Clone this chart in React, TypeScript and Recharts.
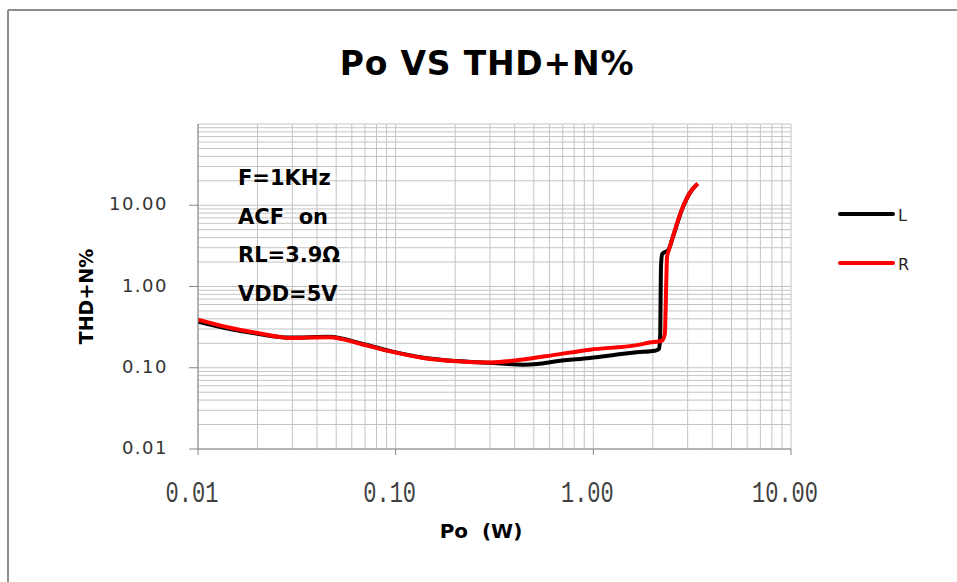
import React from "react";
import { LineChart, Line, XAxis, YAxis, CartesianGrid, Legend } from "recharts";

// ---- Data ----
const L_PO = [0.01, 0.0145, 0.02, 0.029, 0.046, 0.069, 0.094, 0.138, 0.204, 0.3, 0.44, 0.52, 0.65, 0.96, 1.66, 2.05, 2.15, 2.18, 2.19, 2.2, 2.23, 2.4, 2.53, 2.8, 3.08, 3.35];
const L_THD = [0.37, 0.3, 0.262, 0.235, 0.24, 0.195, 0.16, 0.133, 0.121, 0.115, 0.109, 0.111, 0.12, 0.132, 0.155, 0.162, 0.17, 0.25, 0.8, 1.8, 2.5, 2.85, 4.1, 8.7, 14.2, 18.2];

const R_PO = [0.01, 0.0145, 0.02, 0.029, 0.046, 0.069, 0.094, 0.138, 0.204, 0.3, 0.44, 0.65, 0.96, 1.66, 1.93, 2.22, 2.3, 2.32, 2.34, 2.36, 2.42, 2.53, 2.8, 3.08, 3.38];
const R_THD = [0.39, 0.31, 0.268, 0.233, 0.238, 0.192, 0.159, 0.132, 0.12, 0.116, 0.126, 0.145, 0.167, 0.19, 0.204, 0.215, 0.26, 0.5, 1.2, 2.3, 2.9, 4.15, 8.8, 14.3, 18.5];

const SERIES_NAMES = ["L", "R"];
const SERIES_COLORS = ["#000000", "#ff0000"];

const X_MAJOR = [0.01, 0.1, 1, 10];
const X_MAJOR_LABELS = ["0.01", "0.10", "1.00", "10.00"];
const X_TICKS = [
  0.01, 0.02, 0.03, 0.04, 0.05, 0.06, 0.07, 0.08, 0.09,
  0.1, 0.2, 0.3, 0.4, 0.5, 0.6, 0.7, 0.8, 0.9,
  1, 2, 3, 4, 5, 6, 7, 8, 9, 10,
];

const Y_MAJOR = [0.01, 0.1, 1, 10];
const Y_MAJOR_LABELS = ["0.01", "0.10", "1.00", "10.00"];
const Y_TICKS = [
  0.01, 0.02, 0.03, 0.04, 0.05, 0.06, 0.07, 0.08, 0.09,
  0.1, 0.2, 0.3, 0.4, 0.5, 0.6, 0.7, 0.8, 0.9,
  1, 2, 3, 4, 5, 6, 7, 8, 9,
  10, 20, 30, 40, 50, 60, 70, 80, 90, 100,
];

const TITLE = "Po VS THD+N%";
const X_TITLE = "Po  (W)";
const Y_TITLE = "THD+N%";
const NOTES = ["F=1KHz", "ACF  on", "RL=3.9Ω", "VDD=5V"];

const lData = L_PO.map((p, i) => ({ p, t: L_THD[i] }));
const rData = R_PO.map((p, i) => ({ p, t: R_THD[i] }));

const near = (a: number, b: number) => Math.abs(a - b) < 1e-9 * Math.max(1, Math.abs(b));

const XTick = (props: any) => {
  const { x, y, payload } = props;
  const idx = X_MAJOR.findIndex((m) => near(m, payload.value));
  if (idx < 0) return null;
  return (
    <g>
      <line x1={x} y1={y} x2={x} y2={y + 6} stroke="#868686" strokeWidth={1} />
      <g transform={`translate(${x - 6},${y + 53}) scale(1,1.35)`}>
        <text
          x={0}
          y={0}
          textAnchor="middle"
          fontFamily="'Liberation Mono', monospace"
          fontSize={22}
          fill="#404040"
        >
          {X_MAJOR_LABELS[idx]}
        </text>
      </g>
    </g>
  );
};

const YTick = (props: any) => {
  const { x, y, payload } = props;
  const idx = Y_MAJOR.findIndex((m) => near(m, payload.value));
  if (idx < 0) return null;
  return (
    <g>
      <line x1={x - 9} y1={y} x2={x} y2={y} stroke="#868686" strokeWidth={1} />
      <text
        x={x - 30}
        y={y + 5}
        textAnchor="end"
        fontFamily="'DejaVu Sans', sans-serif"
        fontSize={18}
        letterSpacing={1.5}
        fill="#333333"
      >
        {Y_MAJOR_LABELS[idx]}
      </text>
    </g>
  );
};

const LegendContent = (props: any) => {
  const { payload } = props;
  return (
    <svg width={100} height={80} style={{ overflow: "visible", display: "block" }}>
      {(payload || []).map((item: any, i: number) => (
        <g key={item.value} transform={`translate(0,${i * 49})`}>
          <line x1={10} y1={14} x2={63} y2={14} stroke={item.color} strokeWidth={4} strokeLinecap="round" />
          <text x={68} y={21} fontFamily="'DejaVu Sans', sans-serif" fontSize={16} fill="#222">
            {item.value}
          </text>
        </g>
      ))}
    </svg>
  );
};

export default function App() {
  return (
    <div style={{ position: "absolute", left: 0, top: 0, width: 957, height: 582, background: "#fff", overflow: "hidden" }}>
      <LineChart width={957} height={582} margin={{ top: 124, right: 66, bottom: 0, left: 0 }}>
        <CartesianGrid stroke="#c4c4c4" strokeWidth={1} />
        <XAxis
          type="number"
          dataKey="p"
          scale="log"
          domain={[0.01, 10]}
          ticks={X_TICKS}
          interval={0}
          allowDataOverflow
          tick={<XTick />}
          tickLine={false}
          tickSize={0}
          tickMargin={0}
          height={133}
          axisLine={{ stroke: "#868686", strokeWidth: 1 }}
        />
        <YAxis
          type="number"
          scale="log"
          domain={[0.01, 100]}
          ticks={Y_TICKS}
          interval={0}
          allowDataOverflow
          tick={<YTick />}
          tickLine={false}
          tickSize={0}
          tickMargin={0}
          width={198}
          axisLine={{ stroke: "#868686", strokeWidth: 1 }}
        />
        <Line
          data={lData}
          dataKey="t"
          name={SERIES_NAMES[0]}
          stroke={SERIES_COLORS[0]}
          strokeWidth={4}
          dot={false}
          type="monotone"
          isAnimationActive={false}
        />
        <Line
          data={rData}
          dataKey="t"
          name={SERIES_NAMES[1]}
          stroke={SERIES_COLORS[1]}
          strokeWidth={4}
          dot={false}
          type="monotone"
          isAnimationActive={false}
        />
        <Legend
          layout="horizontal"
          verticalAlign="middle"
          align="right"
          content={<LegendContent />}
          wrapperStyle={{ position: "absolute", left: 830, top: 200, width: 100, height: 80 }}
        />
      </LineChart>
      <svg
        width={957}
        height={582}
        style={{ position: "absolute", left: 0, top: 0, pointerEvents: "none" }}
      >
        <line x1={8} y1={10} x2={957} y2={10} stroke="#8c8c8c" strokeWidth={2} />
        <line x1={8} y1={10} x2={8} y2={582} stroke="#8c8c8c" strokeWidth={2} />
        <text
          x={487}
          y={75}
          textAnchor="middle"
          fontFamily="'DejaVu Sans', sans-serif"
          fontWeight="bold"
          fontSize={33}
          letterSpacing={0.8}
          fill="#000"
        >
          {TITLE}
        </text>
        {NOTES.map((n, i) => (
          <text
            key={n}
            x={238}
            y={185 + i * 38.5}
            fontFamily="'DejaVu Sans', sans-serif"
            fontWeight="bold"
            fontSize={21}
            fill="#000"
            style={{ whiteSpace: "pre" }}
          >
            {n}
          </text>
        ))}
        <text
          x={481}
          y={538}
          textAnchor="middle"
          fontFamily="'DejaVu Sans', sans-serif"
          fontWeight="bold"
          fontSize={20}
          fill="#000"
          style={{ whiteSpace: "pre" }}
        >
          {X_TITLE}
        </text>
        <text
          x={93}
          y={296.5}
          transform="rotate(-90 93 296.5)"
          textAnchor="middle"
          fontFamily="'DejaVu Sans', sans-serif"
          fontWeight="bold"
          fontSize={19}
          fill="#000"
        >
          {Y_TITLE}
        </text>
      </svg>
    </div>
  );
}
